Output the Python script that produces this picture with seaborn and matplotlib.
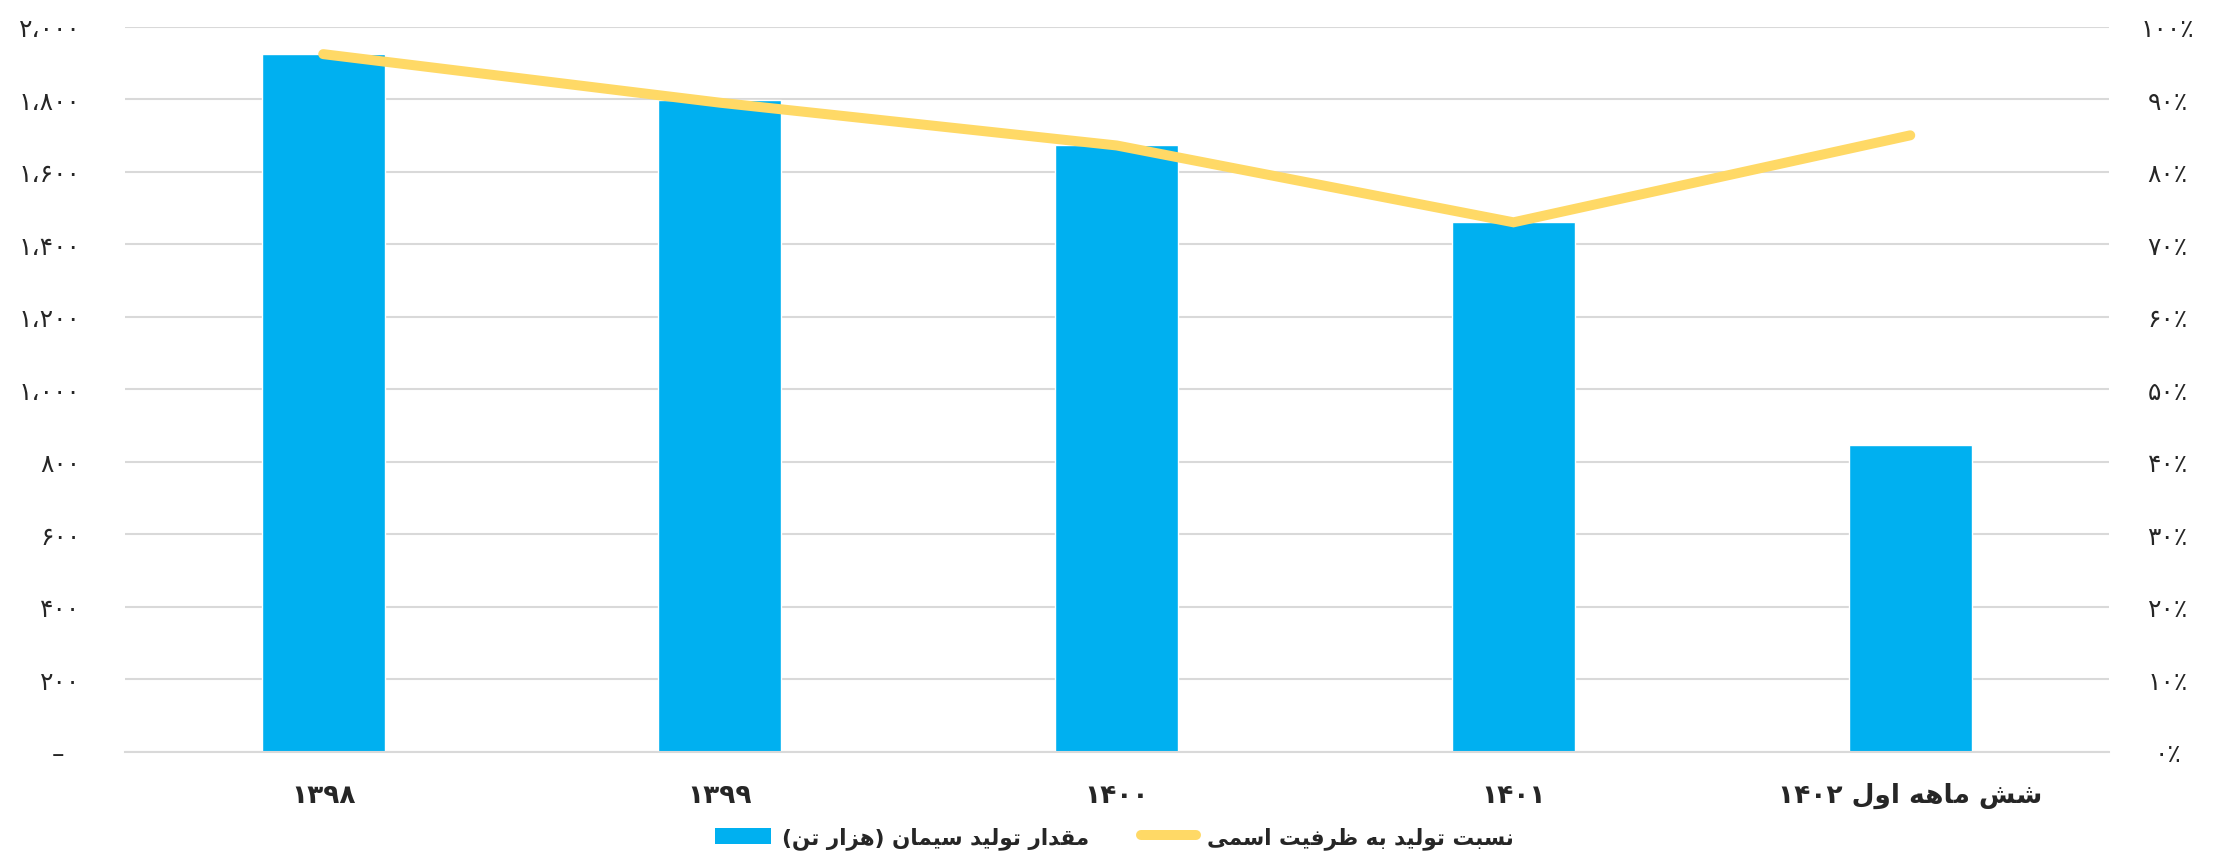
import numpy as np
import matplotlib
matplotlib.use("Agg")
import matplotlib.pyplot as plt
from matplotlib.patches import Patch
from matplotlib.lines import Line2D
from matplotlib.ticker import FixedLocator, FuncFormatter
import seaborn as sns

# ---------------- data ----------------
categories = ["۱۳۹۸", "۱۳۹۹", "۱۴۰۰", "۱۴۰۱", "شش ماهه اول ۱۴۰۲"]
production = [1925, 1798, 1673, 1460, 847]          # هزار تن
capacity_ratio = [0.962, 0.895, 0.836, 0.730, 0.850]
label_bars = "مقدار تولید سیمان (هزار تن)"
label_line = "نسبت تولید به ظرفیت اسمی"
left_ticks = list(range(0, 2001, 200))
right_ticks = [i / 10 for i in range(0, 11)]

BAR_COLOR = "#00B0F0"
LINE_COLOR = "#FFD966"
GRID_COLOR = "#D9D9D9"

# ---------------- minimal Arabic/Persian shaping ----------------
FORMS = {
    'ا': (0xFE8D, 0xFE8E, None, None), 'د': (0xFEA9, 0xFEAA, None, None),
    'ذ': (0xFEAB, 0xFEAC, None, None), 'ر': (0xFEAD, 0xFEAE, None, None),
    'ز': (0xFEAF, 0xFEB0, None, None), 'و': (0xFEED, 0xFEEE, None, None),
    'ژ': (0xFB8A, 0xFB8B, None, None), 'ة': (0xFE93, 0xFE94, None, None),
    'ب': (0xFE8F, 0xFE90, 0xFE91, 0xFE92), 'ت': (0xFE95, 0xFE96, 0xFE97, 0xFE98),
    'ث': (0xFE99, 0xFE9A, 0xFE9B, 0xFE9C), 'ج': (0xFE9D, 0xFE9E, 0xFE9F, 0xFEA0),
    'ح': (0xFEA1, 0xFEA2, 0xFEA3, 0xFEA4), 'خ': (0xFEA5, 0xFEA6, 0xFEA7, 0xFEA8),
    'س': (0xFEB1, 0xFEB2, 0xFEB3, 0xFEB4), 'ش': (0xFEB5, 0xFEB6, 0xFEB7, 0xFEB8),
    'ص': (0xFEB9, 0xFEBA, 0xFEBB, 0xFEBC), 'ض': (0xFEBD, 0xFEBE, 0xFEBF, 0xFEC0),
    'ط': (0xFEC1, 0xFEC2, 0xFEC3, 0xFEC4), 'ظ': (0xFEC5, 0xFEC6, 0xFEC7, 0xFEC8),
    'ع': (0xFEC9, 0xFECA, 0xFECB, 0xFECC), 'غ': (0xFECD, 0xFECE, 0xFECF, 0xFED0),
    'ف': (0xFED1, 0xFED2, 0xFED3, 0xFED4), 'ق': (0xFED5, 0xFED6, 0xFED7, 0xFED8),
    'ل': (0xFEDD, 0xFEDE, 0xFEDF, 0xFEE0), 'م': (0xFEE1, 0xFEE2, 0xFEE3, 0xFEE4),
    'ن': (0xFEE5, 0xFEE6, 0xFEE7, 0xFEE8), 'ه': (0xFEE9, 0xFEEA, 0xFEEB, 0xFEEC),
    'ی': (0xFBFC, 0xFBFD, 0xFBFE, 0xFBFF), 'ي': (0xFEF1, 0xFEF2, 0xFEF3, 0xFEF4),
    'ک': (0xFB8E, 0xFB8F, 0xFB90, 0xFB91), 'گ': (0xFB92, 0xFB93, 0xFB94, 0xFB95),
    'پ': (0xFB56, 0xFB57, 0xFB58, 0xFB59), 'چ': (0xFB7A, 0xFB7B, 0xFB7C, 0xFB7D),
}
DIGITS = set("۰۱۲۳۴۵۶۷۸۹0123456789،٬.٪%")
MIRROR = {'(': ')', ')': '('}


def _dual(c):
    return c in FORMS and FORMS[c][2] is not None


def shape(text):
    out = []
    n = len(text)
    for i, c in enumerate(text):
        if c not in FORMS:
            out.append(c)
            continue
        prev_c = text[i - 1] if i > 0 else ''
        next_c = text[i + 1] if i < n - 1 else ''
        jp = _dual(prev_c)
        jn = _dual(c) and next_c in FORMS
        iso, fin, ini, med = FORMS[c]
        if jp and jn:
            f = med
        elif jp:
            f = fin
        elif jn:
            f = ini
        else:
            f = iso
        out.append(chr(f))
    return ''.join(out)


def rtl(text):
    s = shape(text)
    tokens = []
    cur, cur_dig = '', None
    for ch in s:
        d = ch in DIGITS
        if cur and d != cur_dig:
            tokens.append((cur, cur_dig))
            cur = ''
        cur += ch
        cur_dig = d
    if cur:
        tokens.append((cur, cur_dig))
    res = []
    for tok, dig in reversed(tokens):
        if dig:
            res.append(tok)
        else:
            res.append(''.join(MIRROR.get(ch, ch) for ch in reversed(tok)))
    return ''.join(res)


FA = str.maketrans("0123456789", "۰۱۲۳۴۵۶۷۸۹")


def fa_num(v, pos=None):
    v = int(round(v))
    if v == 0:
        return "–  "
    return f"{v:,}".replace(",", "،").translate(FA)


def fa_pct(v, pos=None):
    return f"{int(round(v * 100))}٪".translate(FA)


# ---------------- plotting ----------------
sns.set_theme(style="white")
plt.rcParams['font.family'] = ['DejaVu Sans']

fig = plt.figure(figsize=(22.29, 8.62), dpi=100)
ax = fig.add_axes([0.056, 0.127, 0.89, 0.841])

sns.barplot(x=categories, y=production, color=BAR_COLOR, saturation=1,
            width=0.31, ax=ax, zorder=2)
ax.set_xlim(-0.5, len(categories) - 0.5)
ax.set_ylim(0, 2000)
ax.yaxis.set_major_locator(FixedLocator(left_ticks))
ax.yaxis.set_major_formatter(FuncFormatter(fa_num))
ax.grid(axis='y', color=GRID_COLOR, linewidth=1.5, zorder=0)
ax.set_axisbelow(True)
ax.set_xticks(range(len(categories)))
ax.set_xticklabels([rtl(c) for c in categories], fontsize=19, fontweight='bold')
ax.tick_params(axis='x', length=0, pad=22)
ax.tick_params(axis='y', length=0, pad=32, labelsize=18)
ax.set_xlabel("")
ax.set_ylabel("")
for sp in ['top', 'left', 'right']:
    ax.spines[sp].set_visible(False)
ax.spines['bottom'].set_color(GRID_COLOR)
ax.spines['bottom'].set_linewidth(1.5)

ax2 = ax.twinx()
sns.lineplot(x=np.arange(len(categories)), y=capacity_ratio, ax=ax2,
             color=LINE_COLOR, linewidth=7.2, solid_capstyle='round',
             solid_joinstyle='miter', sort=False, legend=False)
ax2.set_ylim(0, 1.0)
ax2.yaxis.set_major_locator(FixedLocator(right_ticks))
ax2.yaxis.set_major_formatter(FuncFormatter(fa_pct))
ax2.tick_params(axis='y', length=0, pad=42.5, labelsize=18)
for lab in ax2.get_yticklabels():
    lab.set_horizontalalignment('center')
ax2.set_ylabel("")
ax2.grid(False)
for sp in ax2.spines.values():
    sp.set_visible(False)

handles = [Patch(facecolor=BAR_COLOR, edgecolor='none'),
           Line2D([0], [0], color=LINE_COLOR, linewidth=7.2, solid_capstyle='round')]
fig.legend(handles, [rtl(label_bars), rtl(label_line)], loc='center',
           bbox_to_anchor=(0.5, 0.027), ncol=2, frameon=False,
           prop={'size': 15.5, 'weight': 'bold'}, handlelength=2.6,
           handleheight=0.8, columnspacing=2.4, handletextpad=0.5)

fig.savefig("out.png", dpi=100)
